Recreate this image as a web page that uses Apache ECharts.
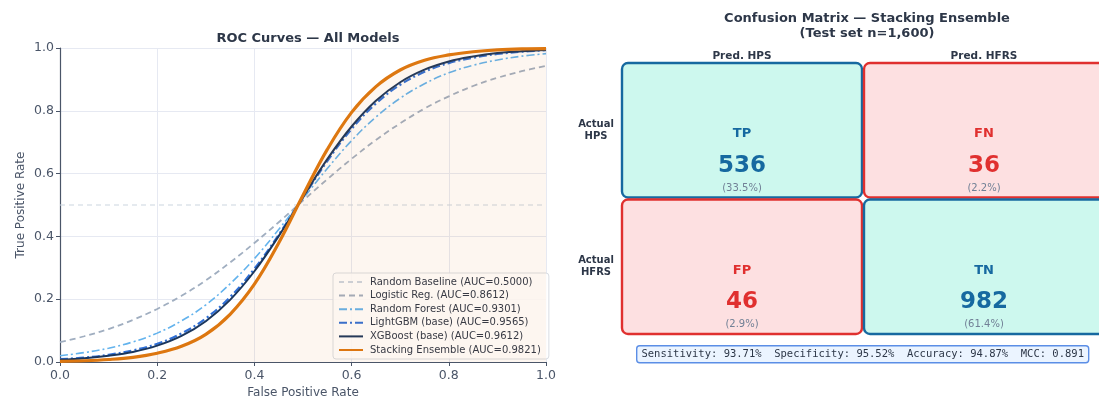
<!DOCTYPE html>
<html>
<head>
<meta charset="utf-8">
<script src="https://cdn.jsdelivr.net/npm/echarts@6/dist/echarts.min.js"></script>
<style>
  html, body { margin: 0; padding: 0; background: #ffffff; }
  #chart { width: 1099px; height: 399px; }
</style>
</head>
<body>
<div id="chart"></div>
<script>
// False positive rate grid shared by every ROC curve
const fpr = [0, 0.05, 0.1, 0.15, 0.2, 0.25, 0.3, 0.35, 0.4, 0.45, 0.5,
             0.55, 0.6, 0.65, 0.7, 0.75, 0.8, 0.85, 0.9, 0.95, 1.0];

// True positive rate per model
const tprBaseline = [0.5, 0.5, 0.5, 0.5, 0.5, 0.5, 0.5, 0.5, 0.5, 0.5, 0.5,
                     0.5, 0.5, 0.5, 0.5, 0.5, 0.5, 0.5, 0.5, 0.5, 0.5];
const tprLogistic = [0.063, 0.082, 0.105, 0.134, 0.169, 0.211, 0.260, 0.317, 0.379, 0.445, 0.514,
                     0.582, 0.647, 0.707, 0.760, 0.807, 0.846, 0.879, 0.905, 0.926, 0.943];
const tprForest   = [0.020, 0.030, 0.044, 0.064, 0.092, 0.131, 0.182, 0.249, 0.329, 0.422, 0.520,
                     0.616, 0.705, 0.780, 0.840, 0.886, 0.921, 0.945, 0.962, 0.974, 0.982];
const tprLgbm     = [0.009, 0.014, 0.023, 0.037, 0.058, 0.091, 0.139, 0.207, 0.297, 0.405, 0.524,
                     0.640, 0.742, 0.823, 0.883, 0.924, 0.952, 0.969, 0.981, 0.988, 0.993];
const tprXgb      = [0.007, 0.012, 0.020, 0.032, 0.052, 0.083, 0.130, 0.198, 0.289, 0.401, 0.525,
                     0.646, 0.750, 0.832, 0.891, 0.931, 0.957, 0.973, 0.984, 0.990, 0.994];
const tprStack    = [0.002, 0.004, 0.008, 0.015, 0.028, 0.050, 0.088, 0.152, 0.248, 0.379, 0.531,
                     0.677, 0.795, 0.877, 0.930, 0.961, 0.978, 0.988, 0.994, 0.997, 0.998];

const modelNames = [
  'Random Baseline (AUC=0.5000)',
  'Logistic Reg. (AUC=0.8612)',
  'Random Forest (AUC=0.9301)',
  'LightGBM (base) (AUC=0.9565)',
  'XGBoost (base) (AUC=0.9612)',
  'Stacking Ensemble (AUC=0.9821)'
];

// Confusion matrix of the stacking ensemble (row = actual, col = predicted)
const predLabels = ['Pred. HPS', 'Pred. HFRS'];
const actualLabels = ['Actual\nHPS', 'Actual\nHFRS'];
const cellTags = ['TP', 'FN', 'FP', 'TN'];
const cellCounts = [536, 36, 46, 982];
const cellShares = ['(33.5%)', '(2.2%)', '(2.9%)', '(61.4%)'];
const cellCols = [0, 1, 0, 1];
const cellRows = [0, 0, 1, 1];
const metricsText = 'Sensitivity: 93.71%  Specificity: 95.52%  Accuracy: 94.87%  MCC: 0.891';

const FONT = '"DejaVu Sans", "Noto Sans", sans-serif';
const INK = '#2d3748';
const AXIS_INK = '#4a5568';

function pairs(ys) { return fpr.map((x, i) => [x, ys[i]]); }

function lineSeries(name, ys, color, width, type, extra) {
  return Object.assign({
    name: name,
    type: 'line',
    xAxisIndex: 0,
    yAxisIndex: 0,
    data: pairs(ys),
    smooth: 0.4,
    showSymbol: false,
    symbol: 'none',
    lineStyle: { color: color, width: width, type: type },
    itemStyle: { color: color },
    z: 3
  }, extra || {});
}

const matrixCells = cellTags.map((t, i) => [cellCols[i], cellRows[i], cellCounts[i], t, cellShares[i]]);

const goodFill = '#cdf8ee', goodStroke = '#1669a0', goodText = '#1669a0';
const badFill = '#fde0e1', badStroke = '#e0302f', badText = '#e0302f';

const chart = echarts.init(document.getElementById('chart'), null, { renderer: 'canvas' });

chart.setOption({
  animation: false,
  backgroundColor: '#ffffff',
  textStyle: { fontFamily: FONT },
  title: [
    {
      text: 'ROC Curves — All Models',
      left: 303, top: 27, textAlign: 'center',
      textStyle: { fontFamily: FONT, fontSize: 13, fontWeight: 'bold', color: INK }
    },
    {
      text: 'Confusion Matrix — Stacking Ensemble\n(Test set n=1,600)',
      left: 862, top: 6, textAlign: 'center',
      textStyle: { fontFamily: FONT, fontSize: 13, fontWeight: 'bold', color: INK, lineHeight: 15 }
    }
  ],
  legend: {
    orient: 'vertical',
    left: 333,
    top: 273,
    padding: [4, 8, 4, 5],
    itemGap: 3.6,
    itemWidth: 24,
    itemHeight: 10,
    itemStyle: { opacity: 0 },
    backgroundColor: 'rgba(255,255,255,0.85)',
    borderColor: '#d9dde3',
    borderWidth: 1,
    borderRadius: 3,
    textStyle: { fontFamily: FONT, fontSize: 10, color: INK, padding: [0, 0, 0, 2] },
    data: modelNames
  },
  grid: [
    { left: 60, top: 48, width: 486, height: 314, outerBoundsMode: 'none', containLabel: false },
    { left: 621, top: 62, width: 484, height: 273, outerBoundsMode: 'none', containLabel: false }
  ],
  xAxis: [
    {
      gridIndex: 0, type: 'value', min: 0, max: 1, interval: 0.2,
      name: 'False Positive Rate', nameLocation: 'middle', nameGap: 22,
      nameTextStyle: { fontFamily: FONT, fontSize: 12, color: AXIS_INK },
      axisLine: { show: true, lineStyle: { color: AXIS_INK, width: 1.2 } },
      axisTick: { show: true, length: 4, lineStyle: { color: AXIS_INK } },
      axisLabel: { fontFamily: FONT, fontSize: 12.5, color: AXIS_INK, margin: 7,
                   formatter: v => v.toFixed(1) },
      splitLine: { show: true, lineStyle: { color: '#e6e9f2', width: 1 } }
    },
    {
      gridIndex: 1, type: 'category', data: predLabels, position: 'top',
      axisLine: { show: false }, axisTick: { show: false },
      axisLabel: { fontFamily: FONT, fontSize: 10.5, fontWeight: 'bold', color: INK, margin: 0 },
      splitLine: { show: false }
    }
  ],
  yAxis: [
    {
      gridIndex: 0, type: 'value', min: 0, max: 1, interval: 0.2,
      name: 'True Positive Rate', nameLocation: 'middle', nameGap: 33,
      nameTextStyle: { fontFamily: FONT, fontSize: 12, color: AXIS_INK },
      axisLine: { show: true, lineStyle: { color: AXIS_INK, width: 1.2 } },
      axisTick: { show: true, length: 4, lineStyle: { color: AXIS_INK } },
      axisLabel: { fontFamily: FONT, fontSize: 12.5, color: AXIS_INK, margin: 6,
                   formatter: v => v.toFixed(1) },
      splitLine: { show: true, lineStyle: { color: '#e6e9f2', width: 1 } }
    },
    {
      gridIndex: 1, type: 'category', data: actualLabels, inverse: true,
      axisLine: { show: false }, axisTick: { show: false },
      axisLabel: { fontFamily: FONT, fontSize: 10, fontWeight: 'bold', color: INK,
                   align: 'center', margin: 25, lineHeight: 12 },
      splitLine: { show: false }
    }
  ],
  series: [
    lineSeries(modelNames[0], tprBaseline, '#cbd5e0', 1.2, [5, 4], { smooth: false, z: 2 }),
    lineSeries(modelNames[1], tprLogistic, '#a0aec0', 1.8, [6, 4]),
    lineSeries(modelNames[2], tprForest, '#63b3ed', 1.6, [8, 3, 2, 3]),
    lineSeries(modelNames[3], tprLgbm, '#2f6fd6', 2.2, [8, 3, 2, 3]),
    lineSeries(modelNames[4], tprXgb, '#1a365d', 2, 'solid'),
    lineSeries(modelNames[5], tprStack, '#dd7710', 3.2, 'solid', {
      areaStyle: { color: 'rgba(221,119,16,0.09)', origin: 'start' }, z: 4
    }),
    {
      name: 'matrix',
      type: 'custom',
      xAxisIndex: 1,
      yAxisIndex: 1,
      data: matrixCells,
      encode: { x: 0, y: 1 },
      silent: true,
      renderItem: function (params, api) {
        const col = api.value(0), row = api.value(1);
        const c = api.coord([col, row]);
        const s = api.size([1, 1]);
        const good = col === row;
        const x0 = c[0] - s[0] / 2 + 1, y0 = c[1] - s[1] / 2 + 1;
        const w = s[0] - 2, h = s[1] - 2;
        const textCol = good ? goodText : badText;
        const idx = params.dataIndex;
        return {
          type: 'group',
          children: [
            {
              type: 'rect',
              shape: { x: x0, y: y0, width: w, height: h, r: 6 },
              style: { fill: good ? goodFill : badFill, stroke: good ? goodStroke : badStroke, lineWidth: 2.4 }
            },
            {
              type: 'text',
              style: { x: c[0], y: y0 + 71, text: matrixCells[idx][3], align: 'center', verticalAlign: 'middle',
                       fill: textCol, font: 'bold 13px ' + FONT }
            },
            {
              type: 'text',
              style: { x: c[0], y: y0 + 103, text: String(api.value(2)), align: 'center', verticalAlign: 'middle',
                       fill: textCol, font: 'bold 23px ' + FONT }
            },
            {
              type: 'text',
              style: { x: c[0], y: y0 + 125, text: matrixCells[idx][4], align: 'center', verticalAlign: 'middle',
                       fill: '#718096', font: '10px ' + FONT }
            }
          ]
        };
      }
    }
  ],
  graphic: [
    {
      type: 'group',
      left: 636, top: 345,
      children: [
        {
          type: 'rect',
          shape: { x: 0, y: 0, width: 452, height: 17, r: 3 },
          style: { fill: '#ebf4ff', stroke: '#5b8ee6', lineWidth: 1.4 }
        },
        {
          type: 'text',
          style: { x: 226, y: 8.5, text: metricsText, align: 'center', verticalAlign: 'middle',
                   fill: INK, font: '10.5px "DejaVu Sans Mono", monospace' }
        }
      ]
    }
  ]
});
</script>
</body>
</html>
